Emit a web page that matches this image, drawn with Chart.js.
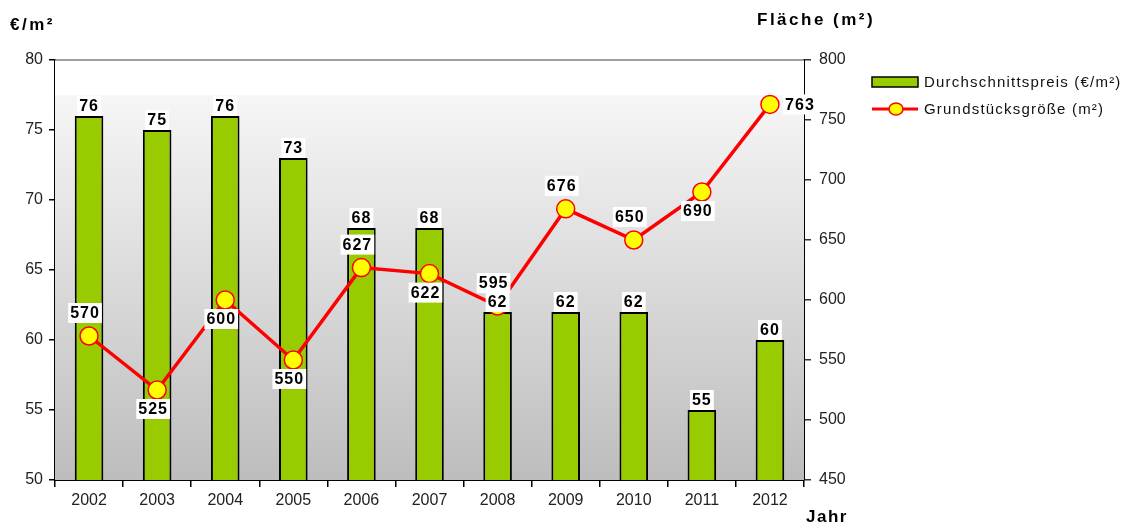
<!DOCTYPE html>
<html><head><meta charset="utf-8">
<script src="https://cdn.jsdelivr.net/npm/chart.js@4/dist/chart.umd.min.js"></script>
<style>html,body{margin:0;padding:0;background:#fff}#wrap{width:1131px;height:527px;position:relative}</style>
</head><body><div id="wrap"><canvas id="c" width="1131" height="527"></canvas></div>
<script>
const years = ['2002','2003','2004','2005','2006','2007','2008','2009','2010','2011','2012'];
const pricePerSqm = [76,75,76,73,68,68,62,62,62,55,60];
const plotSize = [570,525,600,550,627,622,595,676,650,690,763];
const sizeLabelPlacement = ['above','below','below','below','above','below','above','above','above','below','right'];
const leftTicks = [50,55,60,65,70,75,80];
const rightTicks = [450,500,550,600,650,700,750,800];

const FONT = "'Liberation Sans', Arial, sans-serif";

function labelBox(ctx, text, x, y) {
  ctx.font = "bold 16px " + FONT;
  const w = ctx.measureText(text).width + 4;
  ctx.fillStyle = '#fff';
  ctx.fillRect(x - w/2, y - 10, w, 20);
  ctx.fillStyle = '#000';
  ctx.textAlign = 'center';
  ctx.textBaseline = 'middle';
  ctx.fillText(text, x, y + 1);
}

const decor = {
  id: 'decor',
  beforeInit(chart){ chart.ctx.letterSpacing = '1.5px'; },
  beforeDatasetsDraw(chart){
    const {ctx, chartArea:a} = chart;
    ctx.save();
    const g = ctx.createLinearGradient(0, a.top, 0, a.bottom);
    g.addColorStop(0, '#ffffff');
    g.addColorStop(0.082, '#ffffff');
    g.addColorStop(0.085, '#f6f6f6');
    g.addColorStop(1, '#bdbdbd');
    ctx.fillStyle = g;
    ctx.fillRect(a.left, a.top, a.right - a.left, a.bottom - a.top);
    ctx.strokeStyle = '#808080';
    ctx.lineWidth = 1.5;
    ctx.beginPath(); ctx.moveTo(a.left, a.top); ctx.lineTo(a.right, a.top); ctx.stroke();
    ctx.restore();
  },
  afterDatasetsDraw(chart){
    const {ctx} = chart;
    ctx.save();
    ctx.letterSpacing = '1px';
    const lineMeta = chart.getDatasetMeta(1);
    lineMeta.data.forEach((p, i) => {
      const pl = sizeLabelPlacement[i];
      let x = p.x - 4, y = p.y;
      if (pl === 'above') y -= 23;
      else if (pl === 'below') y += 19;
      else { x += 34; }
      labelBox(ctx, String(plotSize[i]), x, y);
    });
    const barMeta = chart.getDatasetMeta(0);
    barMeta.data.forEach((b, i) => {
      labelBox(ctx, String(pricePerSqm[i]), b.x, b.y - 10);
    });
    // titles
    ctx.fillStyle = '#000';
    ctx.textBaseline = 'middle';
    ctx.textAlign = 'left';
    ctx.letterSpacing = '2.5px';
    ctx.font = "bold 17px " + FONT;
    ctx.fillText('€/m²', 10, 25);
    ctx.fillText('Fläche (m²)', 757, 20);
    ctx.letterSpacing = '1.5px';
    ctx.fillText('Jahr', 806, 517);
    // legend
    ctx.fillStyle = '#99cc00';
    ctx.fillRect(872, 77, 46, 10);
    ctx.strokeStyle = '#000'; ctx.lineWidth = 1.5;
    ctx.strokeRect(872, 77, 46, 10);
    ctx.strokeStyle = '#ff0000'; ctx.lineWidth = 3;
    ctx.beginPath(); ctx.moveTo(872, 109); ctx.lineTo(918, 109); ctx.stroke();
    ctx.fillStyle = '#ffff00'; ctx.lineWidth = 1.5;
    ctx.beginPath(); ctx.ellipse(896, 109, 7, 6, 0, 0, Math.PI*2); ctx.fill(); ctx.stroke();
    ctx.fillStyle = '#111';
    ctx.letterSpacing = '1.2px';
    ctx.font = "15px " + FONT;
    ctx.fillText('Durchschnittspreis (€/m²)', 924, 83);
    ctx.fillText('Grundstücksgröße (m²)', 924, 110);
    ctx.restore();
  }
};

new Chart(document.getElementById('c'), {
  data: {
    labels: years,
    datasets: [
      { type:'bar', data: pricePerSqm, yAxisID:'y', backgroundColor:'#99cc00', borderColor:'#000', borderWidth:2,
        barPercentage:0.42, categoryPercentage:1, order:2 },
      { type:'line', data: plotSize, yAxisID:'y1', borderColor:'#ff0000', borderWidth:3.5,
        pointBackgroundColor:'#ffff00', pointBorderColor:'#ff0000', pointBorderWidth:1.5, pointRadius:9,
        tension:0, order:1 }
    ]
  },
  options: {
    responsive:false, animation:false,
    layout:{ padding:{ top:60, left:0, right:266, bottom:0 } },
    plugins:{ legend:{display:false}, tooltip:{enabled:false} },
    scales:{
      x:{ offset:true,
        grid:{ offset:true, drawOnChartArea:false, drawTicks:true, tickLength:7, color:'#000', lineWidth:1.5 },
        border:{ color:'#000', width:2 },
        ticks:{ color:'#222', font:{ family:FONT, size:16 }, padding:4 },
        afterFit(s){ s.height = 47; } },
      y:{ position:'left', min:50, max:80,
        afterBuildTicks(s){ s.ticks = leftTicks.map(v=>({value:v})); },
        grid:{ drawOnChartArea:false, tickLength:6, color:'#000', lineWidth:1.5 },
        border:{ color:'#000', width:2 },
        ticks:{ color:'#222', font:{ family:FONT, size:16 }, padding:6 },
        afterFit(s){ s.width = 55; } },
      y1:{ position:'right', min:450, max:800,
        afterBuildTicks(s){ s.ticks = rightTicks.map(v=>({value:v})); },
        grid:{ drawOnChartArea:false, tickLength:7, color:'#333', lineWidth:1.5 },
        border:{ color:'#000', width:2 },
        ticks:{ color:'#222', font:{ family:FONT, size:16 }, padding:8 },
        afterFit(s){ s.width = 61; } }
    }
  },
  plugins:[decor]
});
</script></body></html>
